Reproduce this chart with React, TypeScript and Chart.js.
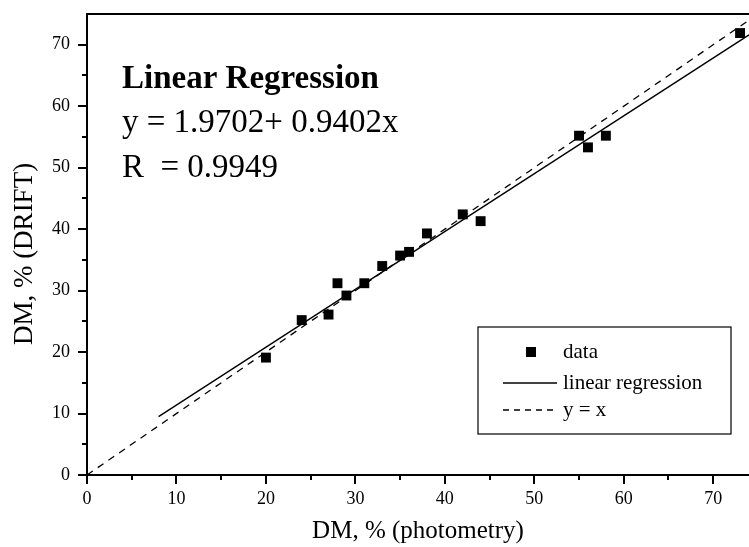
import React, { useEffect, useRef } from 'react';
import { Chart, registerables } from 'chart.js';

Chart.register(...registerables);

// ---- data ----
const dataX = [20, 24, 27, 28, 29, 31, 33, 35, 36, 38, 42, 44, 55, 56, 58, 73];
const dataY = [19.1, 25.2, 26.1, 31.2, 29.2, 31.2, 34.0, 35.7, 36.3, 39.3, 42.4, 41.3, 55.2, 53.3, 55.2, 71.9];
const regX = [8, 74];
const regY = [9.5, 71.6];
const idX = [0, 74];
const idY = [0, 74];
const xTickValues = [0, 5, 10, 15, 20, 25, 30, 35, 40, 45, 50, 55, 60, 65, 70];
const yTickValues = [0, 5, 10, 15, 20, 25, 30, 35, 40, 45, 50, 55, 60, 65, 70];
const annotationLines = ['Linear Regression', 'y = 1.9702+ 0.9402x', 'R  = 0.9949'];
const legendLabels = ['data', 'linear regression', 'y = x'];
const xTitle = 'DM, % (photometry)';
const yTitle = 'DM, % (DRIFT)';

const FONT = "'Liberation Serif', 'Times New Roman', serif";

const decorPlugin = {
  id: 'decor',
  afterDraw(chart: any) {
    const { ctx, chartArea } = chart;
    const xs = chart.scales.x;
    const ys = chart.scales.y;
    ctx.save();
    ctx.strokeStyle = '#000';
    ctx.fillStyle = '#000';
    // top frame line
    ctx.lineWidth = 2;
    ctx.beginPath();
    ctx.moveTo(chartArea.left - 1, chartArea.top);
    ctx.lineTo(chartArea.right, chartArea.top);
    ctx.stroke();
    // ticks (major 9px, minor 5px)
    ctx.lineWidth = 2;
    ctx.beginPath();
    for (const v of xTickValues) {
      const px = Math.round(xs.getPixelForValue(v));
      const len = v % 10 === 0 ? 9 : 5;
      ctx.moveTo(px, chartArea.bottom);
      ctx.lineTo(px, chartArea.bottom + len);
    }
    for (const v of yTickValues) {
      const py = Math.round(ys.getPixelForValue(v));
      const len = v % 10 === 0 ? 9 : 5;
      ctx.moveTo(chartArea.left, py);
      ctx.lineTo(chartArea.left - len, py);
    }
    ctx.stroke();

    // y axis title
    ctx.save();
    ctx.translate(32, 254);
    ctx.rotate(-Math.PI / 2);
    ctx.font = `27px ${FONT}`;
    ctx.textAlign = 'center';
    ctx.textBaseline = 'alphabetic';
    ctx.fillText(yTitle, 0, 0);
    ctx.restore();

    // annotation text
    ctx.textAlign = 'left';
    ctx.textBaseline = 'alphabetic';
    ctx.font = `bold 33px ${FONT}`;
    ctx.fillText(annotationLines[0], 122, 88);
    ctx.font = `33px ${FONT}`;
    ctx.fillText(annotationLines[1], 122, 132);
    ctx.fillText(annotationLines[2], 122, 177);

    // legend box
    const bx = 478, by = 327, bw = 253, bh = 107;
    ctx.lineWidth = 1.2;
    ctx.strokeRect(bx, by, bw, bh);
    ctx.font = `21px ${FONT}`;
    // data marker
    ctx.fillRect(526, 347, 10, 10);
    ctx.fillText(legendLabels[0], 563, 358);
    // solid line
    ctx.lineWidth = 1.3;
    ctx.beginPath();
    ctx.moveTo(503, 383);
    ctx.lineTo(557, 383);
    ctx.stroke();
    ctx.fillText(legendLabels[1], 563, 389);
    // dashed line
    ctx.setLineDash([6, 5]);
    ctx.beginPath();
    ctx.moveTo(503, 410);
    ctx.lineTo(557, 410);
    ctx.stroke();
    ctx.setLineDash([]);
    ctx.fillText(legendLabels[2], 563, 416);
    ctx.restore();
  },
};

export default function App() {
  const ref = useRef<HTMLCanvasElement | null>(null);
  useEffect(() => {
    if (!ref.current) return;
    const chart = new Chart(ref.current, {
      type: 'scatter',
      data: {
        datasets: [
          {
            label: legendLabels[2],
            data: idX.map((x, i) => ({ x, y: idY[i] })),
            showLine: true,
            borderColor: '#000',
            borderWidth: 1.3,
            borderDash: [7, 6],
            pointRadius: 0,
            fill: false,
          },
          {
            label: legendLabels[1],
            data: regX.map((x, i) => ({ x, y: regY[i] })),
            showLine: true,
            borderColor: '#000',
            borderWidth: 1.4,
            pointRadius: 0,
            fill: false,
          },
          {
            label: legendLabels[0],
            data: dataX.map((x, i) => ({ x, y: dataY[i] })),
            pointStyle: 'rect',
            pointRadius: 7,
            pointBorderWidth: 0,
            backgroundColor: '#000',
            borderColor: '#000',
            showLine: false,
          },
        ],
      },
      options: {
        animation: false,
        responsive: false,
        maintainAspectRatio: false,
        devicePixelRatio: 1,
        layout: { autoPadding: false, padding: { top: 14, right: 0, left: 0, bottom: 0 } },
        plugins: { legend: { display: false }, tooltip: { enabled: false } },
        scales: {
          x: {
            type: 'linear',
            min: 0,
            max: 74,
            afterBuildTicks: (s: any) => {
              s.ticks = xTickValues.map((v) => ({ value: v }));
            },
            afterFit: (s: any) => {
              s.height = 72;
              s.paddingLeft = 0;
              s.paddingRight = 0;
            },
            border: { display: true, color: '#000', width: 2 },
            grid: { drawOnChartArea: false, drawTicks: true, tickLength: 9, tickColor: 'rgba(0,0,0,0)' },
            ticks: {
              color: '#000',
              font: { family: FONT, size: 18 },
              padding: 4,
              maxRotation: 0,
              autoSkip: false,
              callback: (v: any) => (Number(v) % 10 === 0 ? String(v) : ''),
            },
            title: {
              display: true,
              text: xTitle,
              color: '#000',
              font: { family: FONT, size: 25 },
              padding: { top: 0, bottom: 1 },
            },
          },
          y: {
            type: 'linear',
            min: 0,
            max: 75,
            afterBuildTicks: (s: any) => {
              s.ticks = yTickValues.map((v) => ({ value: v }));
            },
            afterFit: (s: any) => {
              s.width = 87;
              s.paddingTop = 0;
              s.paddingBottom = 0;
            },
            border: { display: true, color: '#000', width: 2 },
            grid: { drawOnChartArea: false, drawTicks: true, tickLength: 9, tickColor: 'rgba(0,0,0,0)' },
            ticks: {
              color: '#000',
              font: { family: FONT, size: 18 },
              padding: 8,
              autoSkip: false,
              callback: (v: any) => (Number(v) % 10 === 0 ? String(v) : ''),
            },
            title: { display: false },
          },
        },
      },
      plugins: [decorPlugin],
    });
    return () => chart.destroy();
  }, []);
  return (
    <div style={{ position: 'fixed', left: 0, top: 0, width: 749, height: 547, background: '#fff' }}>
      <canvas ref={ref} width={749} height={547} style={{ display: 'block', width: 749, height: 547 }} />
    </div>
  );
}
